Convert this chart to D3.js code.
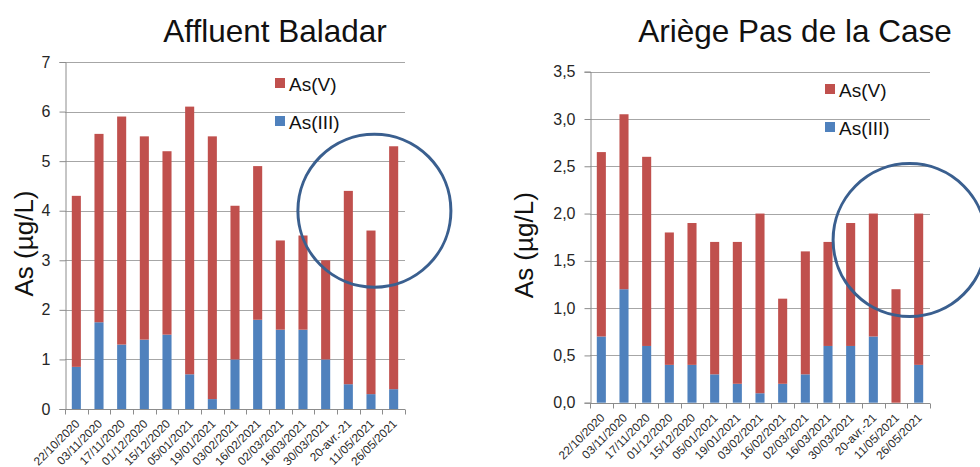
<!DOCTYPE html>
<html><head><meta charset="utf-8">
<script src="https://cdn.jsdelivr.net/npm/d3@7"></script>
<style>
body{margin:0;background:#fff;}
svg{display:block;font-family:"Liberation Sans",Arial,sans-serif;}
</style></head>
<body><svg id="c" width="980" height="467"></svg>
<script>
const dates = ["22/10/2020","03/11/2020","17/11/2020","01/12/2020","15/12/2020","05/01/2021","19/01/2021","03/02/2021","16/02/2021","02/03/2021","16/03/2021","30/03/2021","20-avr.-21","11/05/2021","26/05/2021"];
const seriesNames = ["As(III)","As(V)"];
const seriesColors = ["#4F81BD","#C0504D"];

// Affluent Baladar
const baladarAs3 = [0.85,1.75,1.3,1.4,1.5,0.7,0.2,1.0,1.8,1.6,1.6,1.0,0.5,0.3,0.4];
const baladarAs5 = [3.45,3.8,4.6,4.1,3.7,5.4,5.3,3.1,3.1,1.8,1.9,2.0,3.9,3.3,4.9];
const baladarTicks = [0,1,2,3,4,5,6,7];

// Ariège Pas de la Case
const arriegeAs3 = [0.7,1.2,0.6,0.4,0.4,0.3,0.2,0.1,0.2,0.3,0.6,0.6,0.7,0,0.4];
const arriegeAs5 = [1.95,1.85,2.0,1.4,1.5,1.4,1.5,1.9,0.9,1.3,1.1,1.3,1.3,1.2,1.6];
const arriegeTicks = [0,0.5,1,1.5,2,2.5,3,3.5];

const svg = d3.select("#c");

function drawChart(opt){
  const g = svg.append("g");
  const x = d3.scaleBand().domain(dates).range([opt.x0, opt.x1]).paddingInner(0.6).paddingOuter(0.3);
  const xb = d3.scaleBand().domain(dates).range([opt.x0, opt.x1]);
  const y = d3.scaleLinear().domain([0, opt.max]).range([opt.y0, opt.y1]);

  // gridlines
  g.append("g").selectAll("line").data(opt.ticks.filter(t=>t>0)).join("line")
    .attr("x1", opt.x0).attr("x2", opt.x1)
    .attr("y1", d=>Math.round(y(d))+0.5).attr("y2", d=>Math.round(y(d))+0.5)
    .attr("stroke","#a6a6a6").attr("stroke-width",1);

  // y axis
  const ya = d3.axisLeft(y).tickValues(opt.ticks).tickSize(6).tickPadding(9)
    .tickFormat(opt.fmt);
  const yg = g.append("g").attr("transform",`translate(${opt.x0+0.5},0)`).call(ya);
  yg.select(".domain").attr("stroke","#8c8c8c");
  yg.selectAll(".tick line").attr("stroke","#8c8c8c");
  yg.selectAll(".tick text").attr("font-size",16).attr("fill","#262626")
    .attr("font-family","Liberation Sans, Arial, sans-serif");

  // x axis ticks at category boundaries
  const xa = g.append("g").attr("transform",`translate(0,${Math.round(opt.y0)+0.5})`);
  xa.append("line").attr("x1",opt.x0).attr("x2",opt.x1).attr("stroke","#8c8c8c");
  const bounds = dates.map(d=>xb(d)).concat([opt.x1]);
  xa.selectAll("line.tk").data(bounds).join("line").attr("class","tk")
    .attr("x1",d=>Math.round(d)+0.5).attr("x2",d=>Math.round(d)+0.5).attr("y1",0).attr("y2",5)
    .attr("stroke","#8c8c8c");
  xa.selectAll("text").data(dates).join("text")
    .attr("transform", d=>`translate(${x(d)+x.bandwidth()/2+4},${15}) rotate(-45)`)
    .attr("text-anchor","end").attr("font-size",11.8).attr("fill","#262626")
    .text(d=>d);

  // stacked bars
  const rows = dates.map((d,i)=>({date:d, "As(III)":opt.s3[i], "As(V)":opt.s5[i]}));
  const stack = d3.stack().keys(seriesNames)(rows);
  g.append("g").selectAll("g").data(stack).join("g")
    .attr("fill",(d,i)=>seriesColors[i])
    .selectAll("rect").data(d=>d).join("rect")
    .attr("x", d=>x(d.data.date)).attr("width", x.bandwidth())
    .attr("y", d=>y(d[1])).attr("height", d=>y(d[0])-y(d[1]));

  // title
  g.append("text").attr("x",opt.tx).attr("y",42).attr("text-anchor","middle")
    .attr("font-size",31.5).attr("fill","#111").text(opt.title);

  // y axis title
  g.append("text").attr("transform",`translate(${opt.ax},${(opt.y0+opt.y1)/2+8}) rotate(-90)`)
    .attr("text-anchor","middle").attr("font-size",26).attr("fill","#111").text("As (µg/L)");

  // legend
  const lg = g.append("g").attr("transform",`translate(${opt.lx},${opt.ly})`);
  [["As(V)",1],["As(III)",0]].forEach((it,k)=>{
    lg.append("rect").attr("x",0).attr("y",k*38-13).attr("width",10).attr("height",10).attr("fill",seriesColors[it[1]]);
    lg.append("text").attr("x",14).attr("y",k*38).attr("font-size",19).attr("fill","#111").text(it[0]);
  });

  // annotation circle
  const step = xb.step();
  g.append("circle").attr("cx", opt.x0 + opt.circ[0]*step).attr("cy", y(opt.circ[1])).attr("r", opt.circ[2])
    .attr("fill","none").attr("stroke","#3a5f8f").attr("stroke-width",3);
}

const fmtComma = d=>d3.format(".1f")(d).replace(".",",");

drawChart({x0:65,x1:405,y0:409,y1:62,max:7,ticks:baladarTicks,fmt:d3.format("d"),
  s3:baladarAs3,s5:baladarAs5,title:"Affluent Baladar",tx:275,ax:33,lx:275,ly:91,
  circ:[13.65,4.0,76.5]});
drawChart({x0:590,x1:930,y0:402.7,y1:71.7,max:3.5,ticks:arriegeTicks,fmt:fmtComma,
  s3:arriegeAs3,s5:arriegeAs5,title:"Ariège Pas de la Case",tx:795,ax:533,lx:825,ly:97,
  circ:[14.1,1.72,76.5]});
</script></body></html>
